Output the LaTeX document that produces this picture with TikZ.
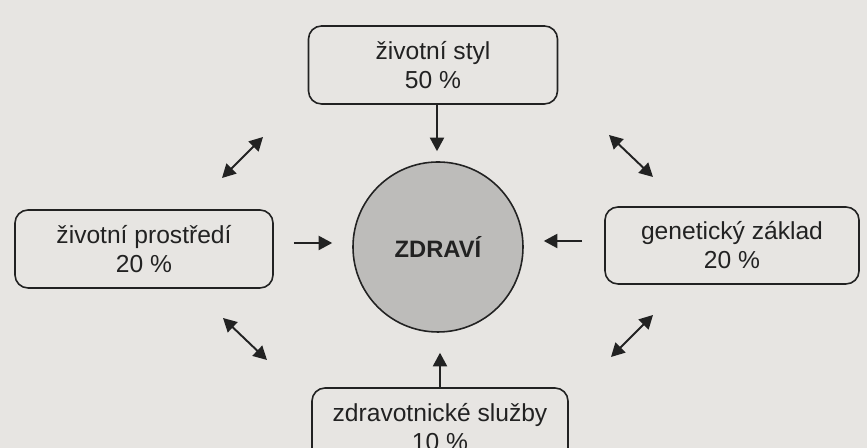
\documentclass[tikz,border=0pt]{standalone}
\usepackage{fontspec}
\setmainfont{Liberation Sans}
\usetikzlibrary{arrows.meta}
\definecolor{paper}{HTML}{E7E5E2}
\definecolor{ink}{HTML}{222222}
\definecolor{disc}{HTML}{BDBCBA}

\begin{document}
\begin{tikzpicture}[
  factor/.style={draw=ink,line width=0.9pt,rounded corners=0.26cm,minimum height=1.56cm,align=center,
    font=\fontsize{14}{16.5}\selectfont,text=ink},
  link/.style={draw=ink,line width=1.1pt,-{Triangle[length=0.27cm,width=0.28cm]}},
  both/.style={link,{Triangle[length=0.27cm,width=0.28cm]}-{Triangle[length=0.27cm,width=0.28cm]}}]
  \fill[paper] (0,0) rectangle (17.34,8.96);
  \useasboundingbox (0,0) rectangle (17.34,8.96);
  \node[circle,draw=ink,line width=0.9pt,fill=disc,minimum size=3.4cm,font=\fontsize{13.5}{16}\selectfont\bfseries,text=ink] (zdravi) at (8.76,4.02) {ZDRAVÍ};
  \node[factor,minimum width=4.98cm] (styl) at (8.66,7.66) {životní styl\\50 \%};
  \node[factor,minimum width=5.16cm] (prostredi) at (2.88,3.98) {životní prostředí\\20 \%};
  \node[factor,minimum width=5.08cm,minimum height=1.54cm] (geny) at (14.64,4.05) {genetický základ\\20 \%};
  \node[factor,minimum width=5.12cm] (sluzby) at (8.80,0.42) {zdravotnické služby\\10 \%};
  \draw[link,shorten >=0.2cm] (styl.south -| 8.74,0) -- (zdravi.north -| 8.74,0);
  \draw[link,shorten <=0.4cm,shorten >=0.4cm] (prostredi.east |- 0,4.1) -- (zdravi.west |- 0,4.1);
  \draw[link,shorten <=0.44cm,shorten >=0.4cm] (geny.west |- 0,4.14) -- (zdravi.east |- 0,4.14);
  \draw[link,shorten >=0.4cm] (sluzby.north -| 8.80,0) -- (zdravi.south -| 8.80,0);
  % vzajemne vazby mezi faktory
  \coordinate (a1) at (4.44,5.40); \coordinate (a2) at (5.26,6.22);
  \coordinate (b1) at (12.18,6.26); \coordinate (b2) at (13.06,5.42);
  \coordinate (c1) at (4.46,2.60); \coordinate (c2) at (5.34,1.76);
  \coordinate (d1) at (13.06,2.66); \coordinate (d2) at (12.22,1.82);
  \foreach \p in {a,b,c,d}\draw[both] (\p1) -- (\p2);
\end{tikzpicture}
\end{document}
